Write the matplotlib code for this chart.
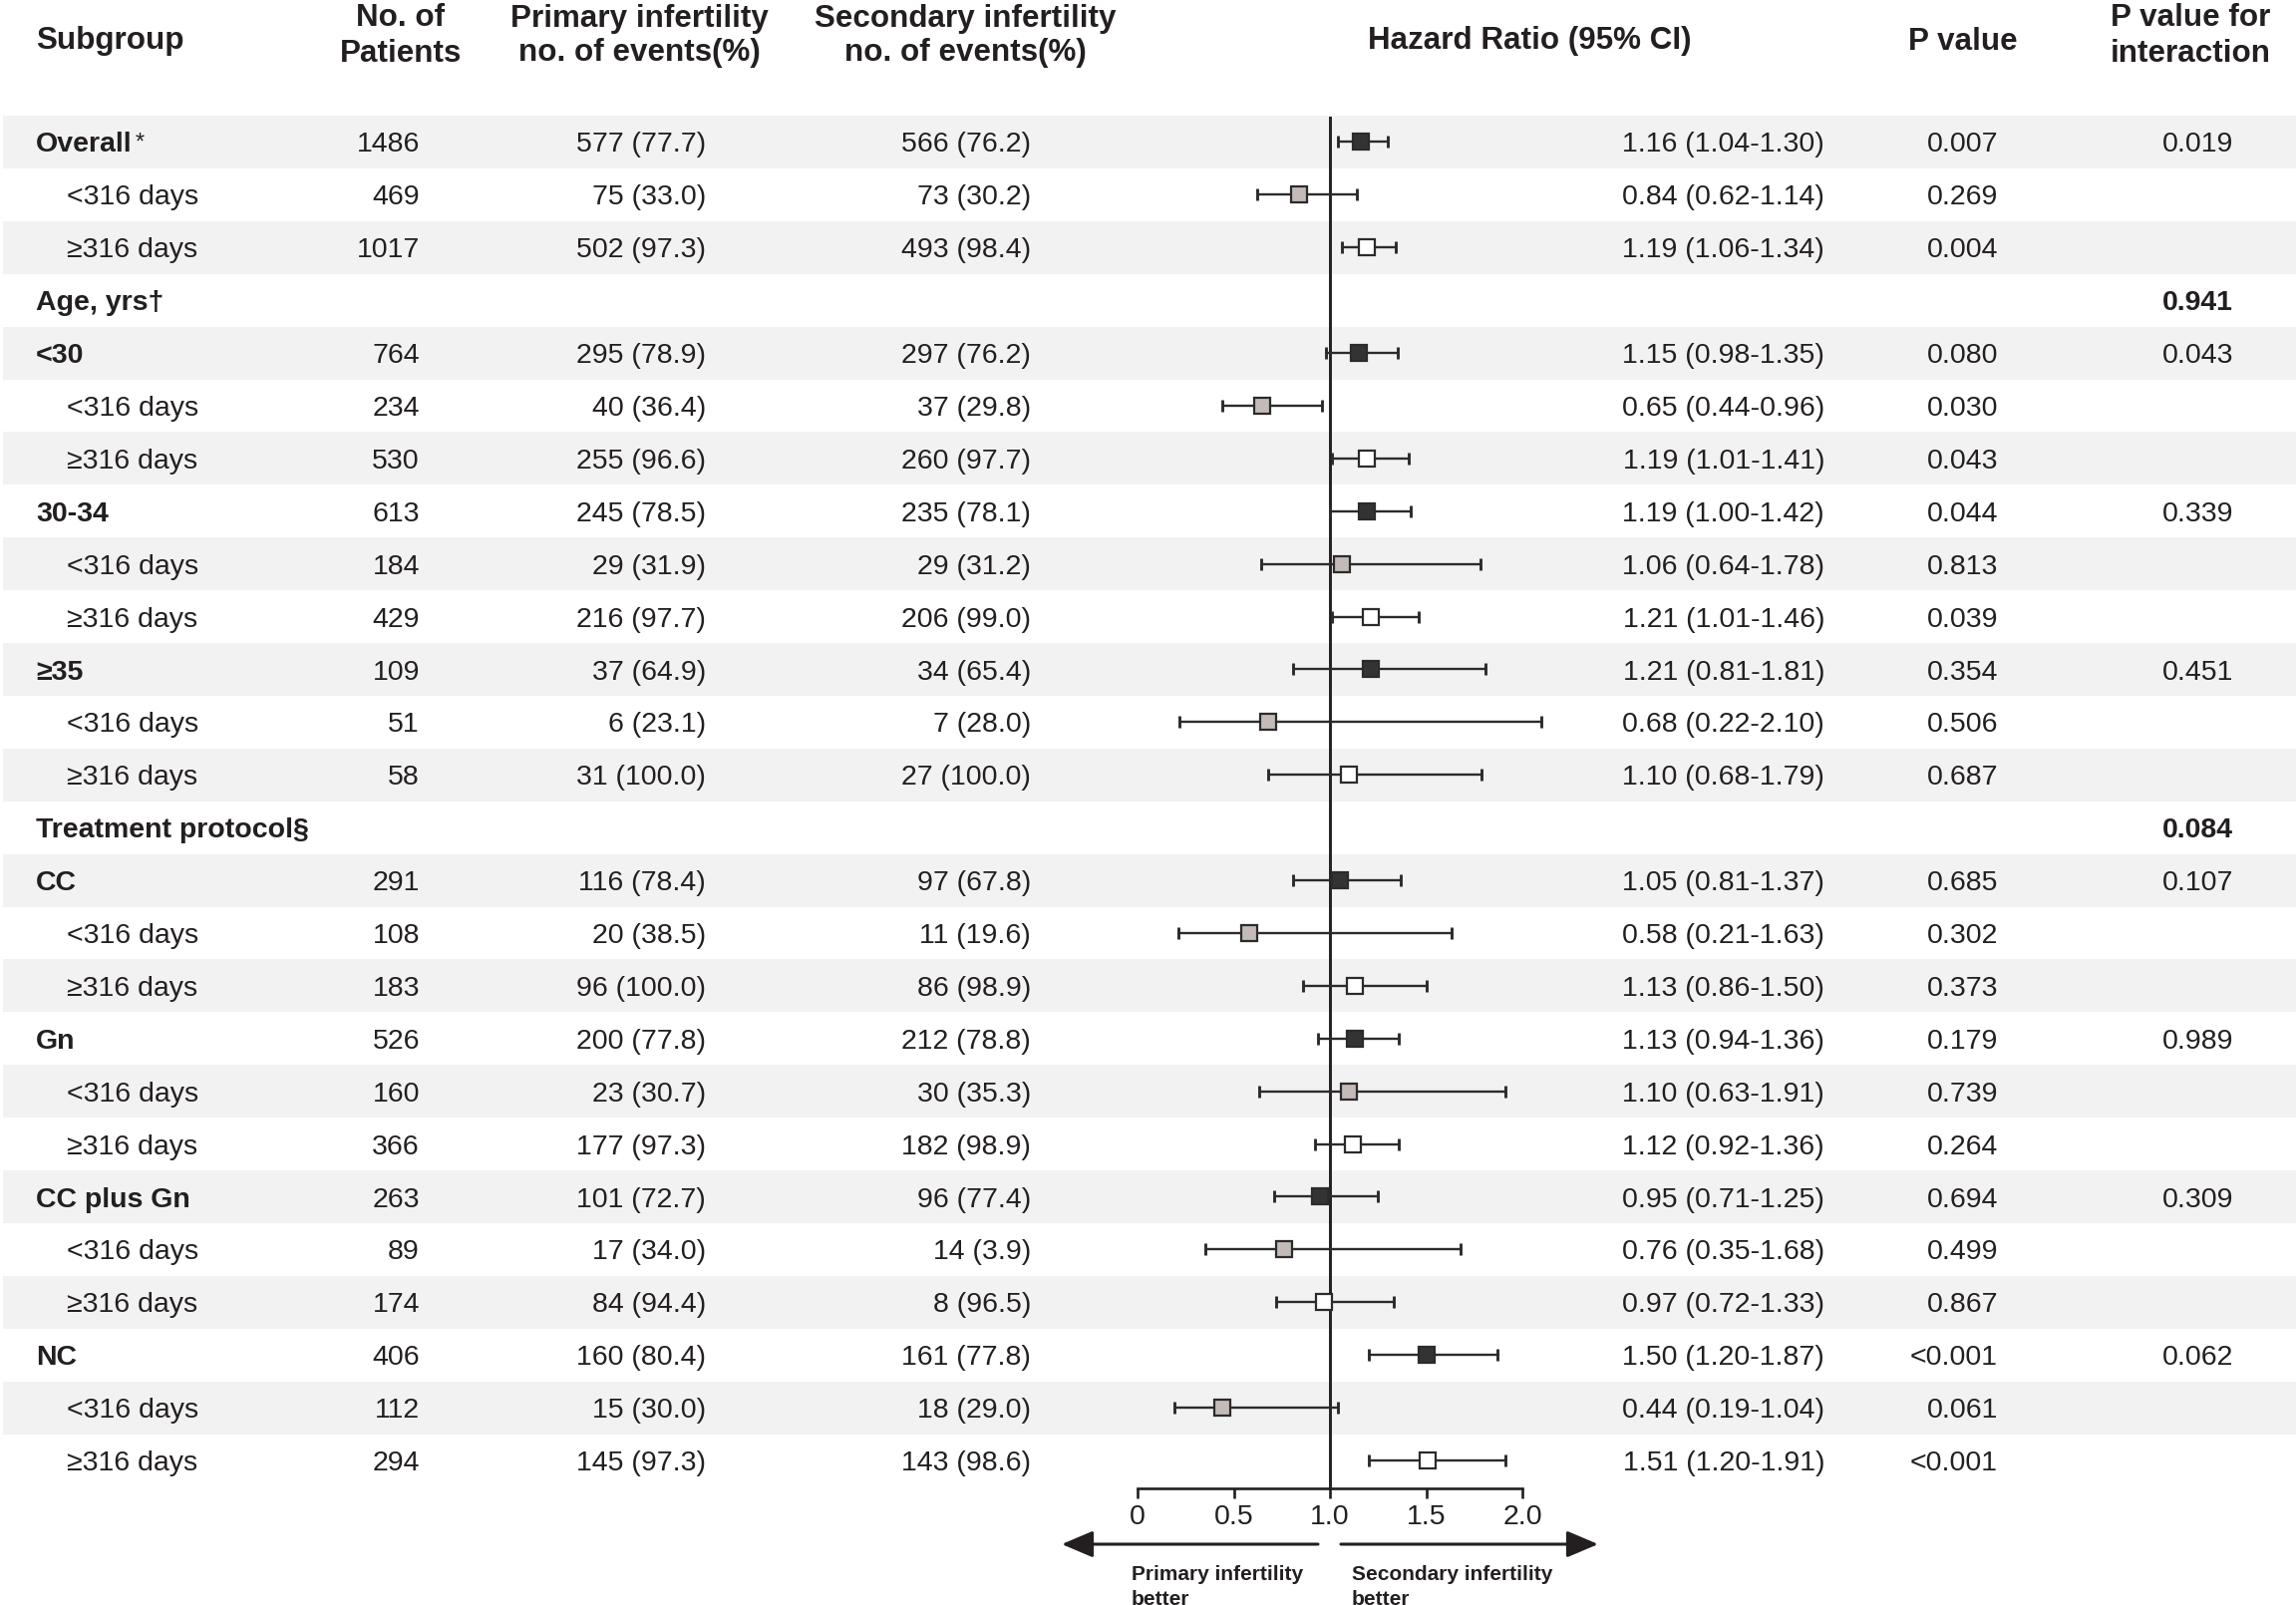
import matplotlib
matplotlib.use('Agg')
import matplotlib.pyplot as plt
import numpy as np

plt.rcParams['font.family'] = ['Liberation Sans', 'DejaVu Sans']

# ---------------- data ----------------
subgroups = ["Overall", "<316 days", "≥316 days", "Age, yrs†", "<30", "<316 days", "≥316 days",
             "30-34", "<316 days", "≥316 days", "≥35", "<316 days", "≥316 days",
             "Treatment protocol§", "CC", "<316 days", "≥316 days", "Gn", "<316 days", "≥316 days",
             "CC plus Gn", "<316 days", "≥316 days", "NC", "<316 days", "≥316 days"]
row_kind = ["main", "short", "long", "header", "main", "short", "long",
            "main", "short", "long", "main", "short", "long",
            "header", "main", "short", "long", "main", "short", "long",
            "main", "short", "long", "main", "short", "long"]
patients = ["1486", "469", "1017", "", "764", "234", "530", "613", "184", "429", "109", "51", "58",
            "", "291", "108", "183", "526", "160", "366", "263", "89", "174", "406", "112", "294"]
primary = ["577 (77.7)", "75 (33.0)", "502 (97.3)", "", "295 (78.9)", "40 (36.4)", "255 (96.6)",
           "245 (78.5)", "29 (31.9)", "216 (97.7)", "37 (64.9)", "6 (23.1)", "31 (100.0)",
           "", "116 (78.4)", "20 (38.5)", "96 (100.0)", "200 (77.8)", "23 (30.7)", "177 (97.3)",
           "101 (72.7)", "17 (34.0)", "84 (94.4)", "160 (80.4)", "15 (30.0)", "145 (97.3)"]
secondary = ["566 (76.2)", "73 (30.2)", "493 (98.4)", "", "297 (76.2)", "37 (29.8)", "260 (97.7)",
             "235 (78.1)", "29 (31.2)", "206 (99.0)", "34 (65.4)", "7 (28.0)", "27 (100.0)",
             "", "97 (67.8)", "11 (19.6)", "86 (98.9)", "212 (78.8)", "30 (35.3)", "182 (98.9)",
             "96 (77.4)", "14 (3.9)", "8 (96.5)", "161 (77.8)", "18 (29.0)", "143 (98.6)"]
hr = [1.16, 0.84, 1.19, np.nan, 1.15, 0.65, 1.19, 1.19, 1.06, 1.21, 1.21, 0.68, 1.10,
      np.nan, 1.05, 0.58, 1.13, 1.13, 1.10, 1.12, 0.95, 0.76, 0.97, 1.50, 0.44, 1.51]
ci_lo = [1.04, 0.62, 1.06, np.nan, 0.98, 0.44, 1.01, 1.00, 0.64, 1.01, 0.81, 0.22, 0.68,
         np.nan, 0.81, 0.21, 0.86, 0.94, 0.63, 0.92, 0.71, 0.35, 0.72, 1.20, 0.19, 1.20]
ci_hi = [1.30, 1.14, 1.34, np.nan, 1.35, 0.96, 1.41, 1.42, 1.78, 1.46, 1.81, 2.10, 1.79,
         np.nan, 1.37, 1.63, 1.50, 1.36, 1.91, 1.36, 1.25, 1.68, 1.33, 1.87, 1.04, 1.91]
p_values = ["0.007", "0.269", "0.004", "", "0.080", "0.030", "0.043", "0.044", "0.813", "0.039",
            "0.354", "0.506", "0.687", "", "0.685", "0.302", "0.373", "0.179", "0.739", "0.264",
            "0.694", "0.499", "0.867", "<0.001", "0.061", "<0.001"]
p_interaction = ["0.019", "", "", "0.941", "0.043", "", "", "0.339", "", "", "0.451", "", "",
                 "0.084", "0.107", "", "", "0.989", "", "", "0.309", "", "", "0.062", "", ""]
x_ticks = [0, 0.5, 1.0, 1.5, 2.0]
x_tick_labels = ["0", "0.5", "1.0", "1.5", "2.0"]

# ---------------- layout ----------------
W, H = 2303, 1610
ROW0, ROWH = 142.5, 52.9
TXT = '#231f20'
EDGE = '#2b2b2b'
STRIPE = '#f3f2f2'
FILL = {"main": '#333333', "short": '#c4bab7', "long": '#ffffff'}
FS = 20.5
FS_HEAD = 22.6

fig = plt.figure(figsize=(W / 100, H / 100), dpi=100)
tab = fig.add_axes([0, 0, 1, 1])
tab.set_xlim(0, W)
tab.set_ylim(H, 0)
tab.axis('off')

n = len(subgroups)
rows = np.arange(n)


def ry(i):
    return ROW0 + i * ROWH


# stripes
for i in range(0, n, 2):
    tab.axhspan(ry(i) - ROWH / 2, ry(i) + ROWH / 2, xmin=3 / W, xmax=1,
                color=STRIPE, lw=0, zorder=0)

# headers
hk = dict(fontsize=FS_HEAD, fontweight='bold', color=TXT, va='center_baseline')
tab.text(36, 38, "Subgroup", ha='left', **hk)
tab.text(402, 15, "No. of", ha='center', **hk)
tab.text(402, 50, "Patients", ha='center', **hk)
tab.text(641, 15, "Primary infertility", ha='center', **hk)
tab.text(641, 50, "no. of events(%)", ha='center', **hk)
tab.text(968, 15, "Secondary infertility", ha='center', **hk)
tab.text(968, 50, "no. of events(%)", ha='center', **hk)
tab.text(1534, 38, "Hazard Ratio (95% CI)", ha='center', **hk)
tab.text(1969, 38, "P value", ha='center', **hk)
tab.text(2197, 15, "P value for", ha='center', **hk)
tab.text(2197, 50, "interaction", ha='center', **hk)

# table body
tk = dict(fontsize=FS, color=TXT, va='center_baseline')
for i in range(n):
    y = ry(i)
    kind = row_kind[i]
    bold = kind in ("main", "header")
    t = tab.text(36 if bold else 67, y, subgroups[i], ha='left',
                 fontweight='bold' if bold else 'normal', **tk)
    if i == 0:
        tab.annotate('*', xy=(1, 1), xycoords=t, xytext=(2, 0), textcoords='offset points',
                     ha='left', va='top', fontsize=17, color=TXT)
    tab.text(421, y, patients[i], ha='right', **tk)
    tab.text(708, y, primary[i], ha='right', **tk)
    tab.text(1034, y, secondary[i], ha='right', **tk)
    if not np.isnan(hr[i]):
        tab.text(1830, y, f"{hr[i]:.2f} ({ci_lo[i]:.2f}-{ci_hi[i]:.2f})", ha='right', **tk)
    tab.text(2004, y, p_values[i], ha='right', **tk)
    tab.text(2240, y, p_interaction[i], ha='right',
             fontweight='bold' if kind == "header" else 'normal', **tk)

# ---------------- forest plot ----------------
PX0, PX2 = 1141, 1527          # pixel x of HR=0 and HR=2
F_TOP, F_BOT = 117, 1492.5
fa = fig.add_axes([PX0 / W, 1 - F_BOT / H, (PX2 - PX0) / W, (F_BOT - F_TOP) / H])
fa.set_xlim(0, 2)
fa.set_ylim((F_BOT - ROW0) / ROWH, (F_TOP - ROW0) / ROWH)
fa.patch.set_visible(False)
for s in ('top', 'left', 'right'):
    fa.spines[s].set_visible(False)
fa.spines['bottom'].set_linewidth(1.9)
fa.spines['bottom'].set_color(TXT)
fa.set_yticks([])
fa.set_xticks(x_ticks)
fa.set_xticklabels(x_tick_labels)
fa.tick_params(axis='x', direction='out', length=7.2, width=1.9, pad=5,
               labelsize=FS, colors=TXT)
fa.axvline(1.0, color=TXT, lw=2.1, zorder=2)

hr_a = np.array(hr)
lo_a = np.array(ci_lo)
hi_a = np.array(ci_hi)
kinds = np.array(row_kind)
for kind in ("main", "short", "long"):
    m = kinds == kind
    cont = fa.errorbar(hr_a[m], rows[m], xerr=[hr_a[m] - lo_a[m], hi_a[m] - hr_a[m]],
                       fmt='none', ecolor=EDGE, elinewidth=1.7, capsize=4.5, capthick=2.1,
                       zorder=3)
    for ch in cont.get_children():
        ch.set_clip_on(False)
    fa.plot(hr_a[m], rows[m], 's', ms=11.5, mfc=FILL[kind], mec=EDGE, mew=1.6,
            clip_on=False, zorder=4)


def hx(px):
    return (px - PX0) / (PX2 - PX0) * 2.0


def hy(py):
    return (py - ROW0) / ROWH


ap = dict(arrowstyle='-|>,head_length=0.4,head_width=0.17', mutation_scale=48,
          lw=2.2, color=TXT, shrinkA=0, shrinkB=0)
fa.annotate('', xy=(hx(1065), hy(1549)), xytext=(hx(1322), hy(1549)),
            arrowprops=ap, annotation_clip=False)
fa.annotate('', xy=(hx(1603), hy(1549)), xytext=(hx(1345), hy(1549)),
            arrowprops=ap, annotation_clip=False)

bk = dict(fontsize=15, fontweight='bold', color=TXT, va='center_baseline', ha='left',
          clip_on=False)
fa.text(hx(1135), hy(1577), "Primary infertility", **bk)
fa.text(hx(1135), hy(1602), "better", **bk)
fa.text(hx(1356), hy(1577), "Secondary infertility", **bk)
fa.text(hx(1356), hy(1602), "better", **bk)

fig.savefig('out.png', dpi=100)
